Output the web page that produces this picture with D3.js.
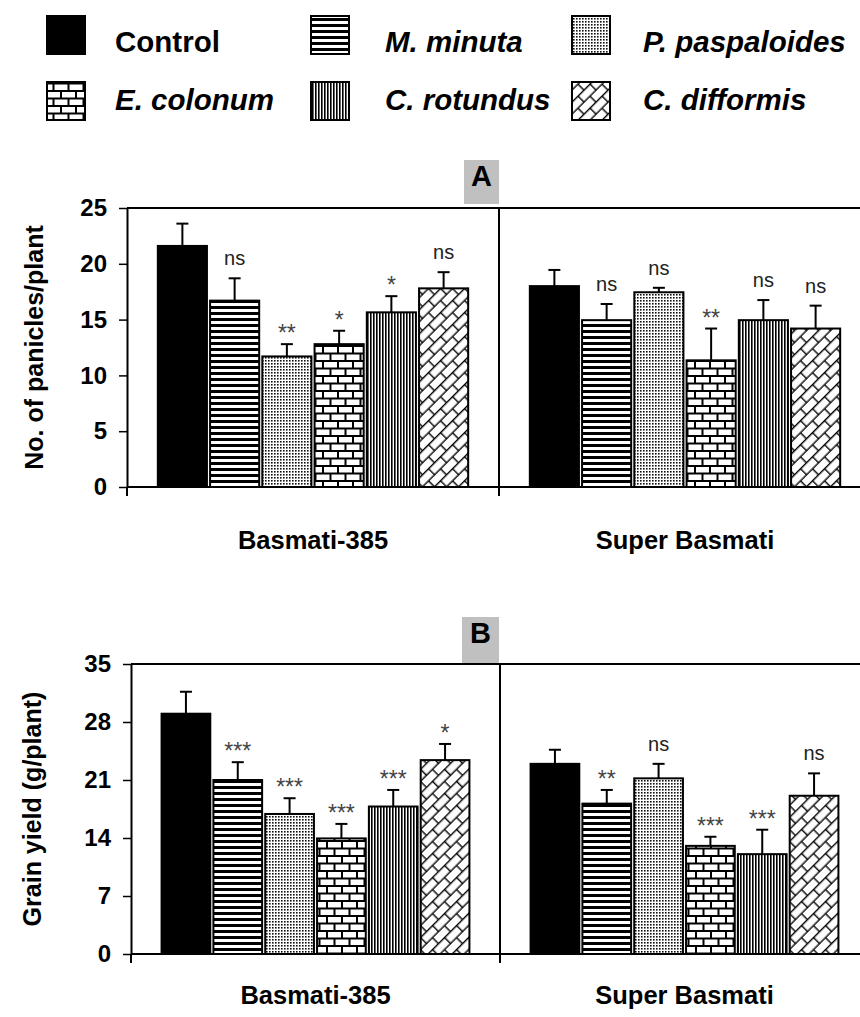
<!DOCTYPE html>
<html>
<head>
<meta charset="utf-8">
<script src="https://cdn.jsdelivr.net/npm/d3@7"></script>
<style>
  html, body { margin: 0; padding: 0; background: #fff; }
  svg { display: block; }
  text { font-family: "Liberation Sans", Arial, Helvetica, sans-serif; }
</style>
</head>
<body>
<div id="chart"></div>
<script>
// ---------------- DATA ----------------
const varieties = ["Basmati-385", "Super Basmati"];
const treatments = ["Control", "M. minuta", "P. paspaloides", "E. colonum", "C. rotundus", "C. difformis"];
const legendItalic = [false, true, true, true, true, true];

// Panel A: No. of panicles/plant
const paniclesB385 = [21.6, 16.7, 11.7, 12.8, 15.65, 17.8];
const paniclesB385Err = [2.0, 2.0, 1.1, 1.2, 1.45, 1.45];
const paniclesSB = [18.0, 14.95, 17.45, 11.35, 14.95, 14.2];
const paniclesSBErr = [1.45, 1.45, 0.4, 2.85, 1.8, 2.05];
const paniclesSigB385 = ["", "ns", "**", "*", "*", "ns"];
const paniclesSigSB = ["", "ns", "ns", "**", "ns", "ns"];
const paniclesTicks = [0, 5, 10, 15, 20, 25];

// Panel B: Grain yield (g/plant)
const yieldB385 = [29.0, 21.0, 16.9, 13.95, 17.8, 23.4];
const yieldB385Err = [2.65, 2.15, 1.9, 1.75, 2.0, 1.95];
const yieldSB = [22.95, 18.15, 21.2, 13.05, 12.05, 19.1];
const yieldSBErr = [1.7, 1.65, 1.75, 1.1, 2.95, 2.7];
const yieldSigB385 = ["", "***", "***", "***", "***", "*"];
const yieldSigSB = ["", "**", "ns", "***", "***", "ns"];
const yieldTicks = [0, 7, 14, 21, 28, 35];

// ---------------- SETUP ----------------
const W = 860, H = 1017;
const FONT = '"Liberation Sans", Arial, Helvetica, sans-serif';
const svg = d3.select("#chart").append("svg").attr("width", W).attr("height", H);
const defs = svg.append("defs");

// Patterns
const patIds = ["solid", "hstripe", "dots", "brick", "vstripe", "diagbrick"];
(function () {
  const p = defs.append("pattern").attr("id", "hstripe").attr("patternUnits", "userSpaceOnUse")
    .attr("width", 6).attr("height", 6);
  p.append("rect").attr("width", 6).attr("height", 6).attr("fill", "#fff");
  p.append("rect").attr("y", 0).attr("width", 6).attr("height", 3).attr("fill", "#000");
})();
(function () {
  const p = defs.append("pattern").attr("id", "dots").attr("patternUnits", "userSpaceOnUse")
    .attr("width", 3).attr("height", 3);
  p.append("rect").attr("width", 3).attr("height", 3).attr("fill", "#fff");
  p.append("rect").attr("x", 0).attr("y", 0).attr("width", 1.6).attr("height", 1.6).attr("fill", "#111");
})();
(function () {
  const p = defs.append("pattern").attr("id", "brick").attr("patternUnits", "userSpaceOnUse")
    .attr("width", 15).attr("height", 15);
  p.append("rect").attr("width", 15).attr("height", 15).attr("fill", "#fff");
  const g = p.append("g").attr("stroke", "#000").attr("stroke-width", 2);
  g.append("line").attr("x1", 0).attr("x2", 15).attr("y1", 1).attr("y2", 1);
  g.append("line").attr("x1", 0).attr("x2", 15).attr("y1", 8.5).attr("y2", 8.5);
  g.append("line").attr("x1", 1).attr("x2", 1).attr("y1", 1).attr("y2", 8.5);
  g.append("line").attr("x1", 8.5).attr("x2", 8.5).attr("y1", 8.5).attr("y2", 16);
})();
(function () {
  const p = defs.append("pattern").attr("id", "vstripe").attr("patternUnits", "userSpaceOnUse")
    .attr("width", 3).attr("height", 3);
  p.append("rect").attr("width", 3).attr("height", 3).attr("fill", "#fff");
  p.append("rect").attr("x", 0).attr("width", 1.6).attr("height", 3).attr("fill", "#000");
})();
(function () {
  const s = 17, h = s / 2;
  const p = defs.append("pattern").attr("id", "diagbrick").attr("patternUnits", "userSpaceOnUse")
    .attr("width", s).attr("height", s).attr("patternTransform", "rotate(-45)");
  p.append("rect").attr("width", s).attr("height", s).attr("fill", "#fff");
  const g = p.append("g").attr("stroke", "#000").attr("stroke-width", 1.4);
  g.append("line").attr("x1", 0).attr("x2", s).attr("y1", 0.7).attr("y2", 0.7);
  g.append("line").attr("x1", 0).attr("x2", s).attr("y1", h + 0.7).attr("y2", h + 0.7);
  g.append("line").attr("x1", 0.7).attr("x2", 0.7).attr("y1", 0.7).attr("y2", h + 0.7);
  g.append("line").attr("x1", h + 0.7).attr("x2", h + 0.7).attr("y1", h + 0.7).attr("y2", s + 0.7);
})();
const fillFor = i => i === 0 ? "#000" : `url(#${patIds[i]})`;

// ---------------- LEGEND ----------------
const legCols = [47, 311, 572];
const legTextX = [115, 385, 643];
const legRows = [16, 82];
const legBase = [52, 110];
treatments.forEach((t, i) => {
  const r = Math.floor(i / 3), c = i % 3;
  svg.append("rect")
    .attr("x", legCols[c]).attr("y", legRows[r]).attr("width", 38).attr("height", 38)
    .attr("fill", fillFor(i)).attr("stroke", "#000").attr("stroke-width", 2);
  svg.append("text")
    .attr("x", legTextX[c]).attr("y", legBase[r])
    .attr("font-size", 29.5).attr("font-weight", "bold")
    .attr("font-style", legendItalic[i] ? "italic" : "normal")
    .attr("fill", "#000")
    .text(t);
});

// ---------------- PANEL FUNCTION ----------------
function drawPanel(cfg) {
  const { left, right, top, bottom, maxY, ticks, data, errs, sigs, yTitle, letter, letterBox, titleX, catBase } = cfg;
  const g = svg.append("g");

  const y = d3.scaleLinear().domain([0, maxY]).range([bottom, top]);
  const x0 = d3.scaleBand().domain(varieties).range([left, right]).padding(0);
  const x1 = d3.scaleBand().domain(treatments).range([0, x0.bandwidth()])
    .paddingInner(0.06).paddingOuter(0.59);

  g.append("rect").attr("x", letterBox[0]).attr("y", letterBox[1])
    .attr("width", letterBox[2]).attr("height", letterBox[3]).attr("fill", "#c0c0c0");
  g.append("text").attr("x", letterBox[0] + letterBox[2] / 2).attr("y", letterBox[4])
    .attr("text-anchor", "middle").attr("font-size", 29).attr("font-weight", "bold")
    .text(letter);

  g.append("line").attr("x1", left).attr("x2", right).attr("y1", top).attr("y2", top)
    .attr("stroke", "#000").attr("stroke-width", 2);
  g.append("line").attr("x1", left).attr("x2", right).attr("y1", bottom).attr("y2", bottom)
    .attr("stroke", "#000").attr("stroke-width", 2);
  [left, x0(varieties[1]), right].forEach((bx, k) => {
    g.append("line").attr("x1", bx).attr("x2", bx)
      .attr("y1", k === 1 ? top : bottom).attr("y2", bottom + 9)
      .attr("stroke", "#000").attr("stroke-width", 2);
  });

  varieties.forEach((v, vi) => {
    const gg = g.append("g").attr("transform", `translate(${x0(v)},0)`);
    const vals = data[vi], ev = errs[vi], sv = sigs[vi];
    treatments.forEach((t, ti) => {
      const bx = x1(t), bw = x1.bandwidth(), cx = bx + bw / 2;
      const ytop = y(vals[ti]), yerr = y(vals[ti] + ev[ti]);
      gg.append("line").attr("x1", cx).attr("x2", cx).attr("y1", ytop).attr("y2", yerr)
        .attr("stroke", "#000").attr("stroke-width", 2);
      gg.append("line").attr("x1", cx - 6).attr("x2", cx + 6).attr("y1", yerr).attr("y2", yerr)
        .attr("stroke", "#000").attr("stroke-width", 2);
      gg.append("rect").attr("x", bx).attr("y", ytop).attr("width", bw)
        .attr("height", y(0) - ytop)
        .attr("fill", fillFor(ti)).attr("stroke", "#000").attr("stroke-width", 2);
      if (sv[ti]) {
        const isNs = sv[ti] === "ns";
        gg.append("text").attr("x", cx).attr("y", yerr - (isNs ? 13 : 3))
          .attr("text-anchor", "middle").attr("font-size", isNs ? 20 : 23)
          .attr("fill", isNs ? "#222" : "#444")
          .text(sv[ti]);
      }
    });
  });

  const ax = g.append("g").attr("transform", `translate(${left},0)`)
    .call(d3.axisLeft(y).tickValues(ticks).tickSize(8).tickSizeOuter(0).tickPadding(12));
  ax.select(".domain").attr("stroke", "#000").attr("stroke-width", 2);
  ax.selectAll(".tick line").attr("stroke", "#000").attr("stroke-width", 1.5);
  ax.selectAll(".tick text").attr("font-family", FONT).attr("font-size", 24)
    .attr("font-weight", "bold").attr("fill", "#000");

  g.append("text")
    .attr("transform", `translate(${titleX},${(top + bottom) / 2}) rotate(-90)`)
    .attr("text-anchor", "middle").attr("font-size", 25).attr("font-weight", "bold")
    .text(yTitle);

  varieties.forEach(v => {
    g.append("text").attr("x", x0(v) + x0.bandwidth() / 2).attr("y", catBase)
      .attr("text-anchor", "middle").attr("font-size", 25.5).attr("font-weight", "bold")
      .text(v);
  });
}

drawPanel({
  left: 127, right: 871, top: 208, bottom: 487, maxY: 25, ticks: paniclesTicks,
  data: [paniclesB385, paniclesSB], errs: [paniclesB385Err, paniclesSBErr],
  sigs: [paniclesSigB385, paniclesSigSB],
  yTitle: "No. of panicles/plant", letter: "A", letterBox: [464, 160, 35, 44, 186],
  titleX: 43, catBase: 549
});

drawPanel({
  left: 131, right: 869, top: 664, bottom: 954, maxY: 35, ticks: yieldTicks,
  data: [yieldB385, yieldSB], errs: [yieldB385Err, yieldSBErr],
  sigs: [yieldSigB385, yieldSigSB],
  yTitle: "Grain yield (g/plant)", letter: "B", letterBox: [462, 617, 37, 46, 643],
  titleX: 41, catBase: 1004
});
</script>
</body>
</html>
